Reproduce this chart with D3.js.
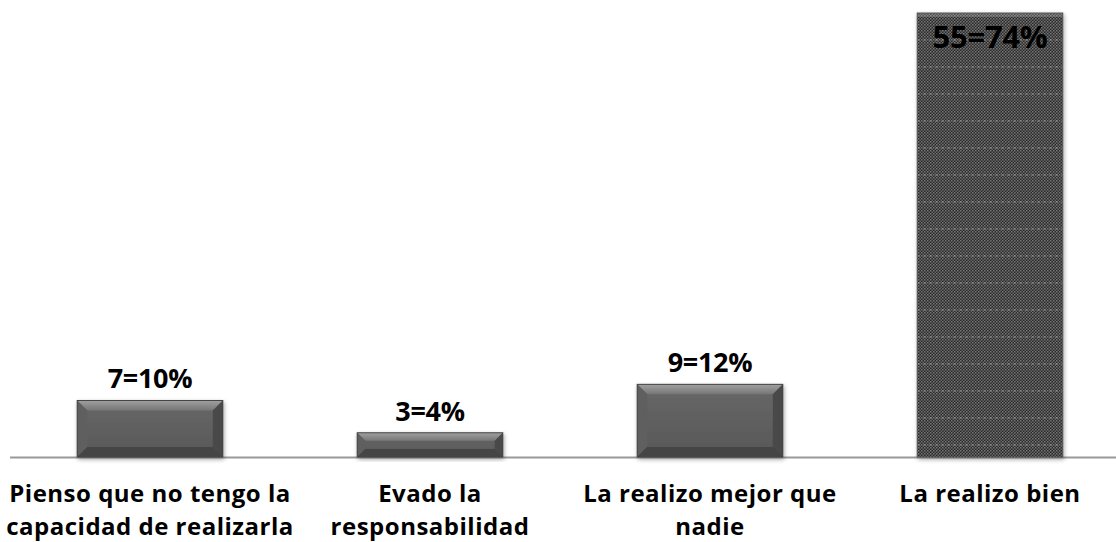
<!DOCTYPE html>
<html>
<head>
<meta charset="utf-8">
<script src="https://cdnjs.cloudflare.com/ajax/libs/d3/7.8.5/d3.min.js"></script>
<style>
  body { margin: 0; background: #fff; }
  svg { display: block; }
  text { font-family: "Open Sans", Lato, sans-serif; font-weight: bold; fill: #000; }
</style>
</head>
<body>
<svg id="chart" width="1116" height="542"></svg>
<script>
// Data
var categories = [
  ["Pienso que no tengo la", "capacidad de realizarla"],
  ["Evado la", "responsabilidad"],
  ["La realizo mejor que", "nadie"],
  ["La realizo bien"]
];
var counts = [7, 3, 9, 55];
var labels = ["7=10%", "3=4%", "9=12%", "55=74%"];

var margin = {top: 13, left: 10, baseline: 457},
    plotRight = 1130;

var svg = d3.select("#chart");

var x = d3.scaleBand()
    .domain(d3.range(counts.length))
    .range([margin.left, plotRight])
    .paddingInner(0.48)
    .paddingOuter(0.24);

var y = d3.scaleLinear()
    .domain([0, 55])
    .range([margin.baseline, margin.top]);

var defs = svg.append("defs");

// bar body gradient
var g = defs.append("linearGradient").attr("id", "body")
    .attr("x1", 0).attr("y1", 0).attr("x2", 0).attr("y2", 1);
g.append("stop").attr("offset", "0%").attr("stop-color", "#686868");
g.append("stop").attr("offset", "100%").attr("stop-color", "#575757");

var gt = defs.append("linearGradient").attr("id", "bevelTop")
    .attr("x1", 0).attr("y1", 0).attr("x2", 0).attr("y2", 1);
gt.append("stop").attr("offset", "0%").attr("stop-color", "#a0a0a0");
gt.append("stop").attr("offset", "100%").attr("stop-color", "#767676");

// dotted pattern for the big bar
var pat = defs.append("pattern").attr("id", "dots")
    .attr("patternUnits", "userSpaceOnUse")
    .attr("width", 3).attr("height", 3);
pat.append("rect").attr("width", 3).attr("height", 3).attr("fill", "#2a2a2a");
pat.append("rect").attr("width", 1.5).attr("height", 1.5).attr("fill", "#777");
pat.append("rect").attr("x", 1.5).attr("y", 1.5).attr("width", 1.5).attr("height", 1.5).attr("fill", "#666");

var shadow = defs.append("filter").attr("id", "shadow")
    .attr("x", "-10%").attr("y", "-10%").attr("width", "130%").attr("height", "130%");
shadow.append("feDropShadow").attr("dx", 1).attr("dy", 2).attr("stdDeviation", 2)
    .attr("flood-color", "#000").attr("flood-opacity", 0.35);

// baseline
svg.append("line")
    .attr("x1", margin.left).attr("x2", plotRight)
    .attr("y1", margin.baseline + 0.5).attr("y2", margin.baseline + 0.5)
    .style("stroke", "#999")
    .style("stroke-width", 2);

var bars = svg.selectAll("g.bar")
    .data(counts)
    .enter()
    .append("g")
    .attr("class", "bar")
    .attr("filter", "url(#shadow)");

bars.each(function(d, i) {
  var gEl = d3.select(this);
  var x0 = x(i), w = x.bandwidth(), y0 = y(d), h = margin.baseline - y0;
  var bv = Math.min(10, h / 3);
  var x1 = x0 + w, y1 = margin.baseline;

  if (i === 3) {
    gEl.append("rect").attr("x", x0).attr("y", y0).attr("width", w).attr("height", h)
      .style("fill", "url(#dots)");
    // faint light dashed rows
    for (var yy = y0 + 27; yy < y1 - 5; yy += 27) {
      gEl.append("line").attr("x1", x0).attr("x2", x1).attr("y1", yy).attr("y2", yy)
        .style("stroke", "#bbb").style("stroke-width", 1)
        .style("stroke-dasharray", "3,3").style("opacity", 0.6);
    }
    gEl.append("rect").attr("x", x0).attr("y", y0).attr("width", w).attr("height", 4)
      .style("fill", "#aaa").style("opacity", 0.35);
    gEl.append("rect").attr("x", x0).attr("y", y0).attr("width", w).attr("height", h)
      .style("fill", "none").style("stroke", "#555").style("stroke-width", 1);
    return;
  }

  gEl.append("rect").attr("x", x0).attr("y", y0).attr("width", w).attr("height", h)
    .style("fill", "url(#body)");
  // top bevel
  gEl.append("polygon")
    .attr("points", [[x0, y0], [x1, y0], [x1 - bv, y0 + bv], [x0 + bv, y0 + bv]].join(" "))
    .style("fill", "url(#bevelTop)");
  // left bevel
  gEl.append("polygon")
    .attr("points", [[x0, y0], [x0 + bv, y0 + bv], [x0 + bv, y1 - bv], [x0, y1]].join(" "))
    .style("fill", "#5e5e5e");
  // right bevel
  gEl.append("polygon")
    .attr("points", [[x1, y0], [x1 - bv, y0 + bv], [x1 - bv, y1 - bv], [x1, y1]].join(" "))
    .style("fill", "#4a4a4a");
  // bottom bevel
  gEl.append("polygon")
    .attr("points", [[x0, y1], [x0 + bv, y1 - bv], [x1 - bv, y1 - bv], [x1, y1]].join(" "))
    .style("fill", "#444");
  gEl.append("rect").attr("x", x0).attr("y", y0).attr("width", w).attr("height", h)
    .style("fill", "none").style("stroke", "#444").style("stroke-width", 1);
});

// value labels (the tall bar's label sits inside its top, a bit larger)
svg.selectAll("text.value")
    .data(counts)
    .enter()
    .append("text")
    .attr("class", "value")
    .attr("x", function(d, i) { return x(i) + x.bandwidth() / 2; })
    .attr("y", function(d) { return Math.max(y(d) - 12, 48); })
    .attr("text-anchor", "middle")
    .style("font-size", function(d, i) { return i === 3 ? "31px" : "27px"; })
    .style("letter-spacing", "-0.3px")
    .text(function(d, i) { return labels[i]; });

// category labels, one text per line
var catLines = [];
categories.forEach(function(lines, i) {
  lines.forEach(function(s, j) { catLines.push({s: s, i: i, j: j}); });
});

svg.selectAll("text.cat")
    .data(catLines)
    .enter()
    .append("text")
    .attr("class", "cat")
    .attr("text-anchor", "middle")
    .attr("x", function(d) { return x(d.i) + x.bandwidth() / 2; })
    .attr("y", function(d) { return 502 + d.j * 33; })
    .style("font-size", "24px")
    .style("letter-spacing", "0.5px")
    .text(function(d) { return d.s; });
</script>
</body>
</html>
